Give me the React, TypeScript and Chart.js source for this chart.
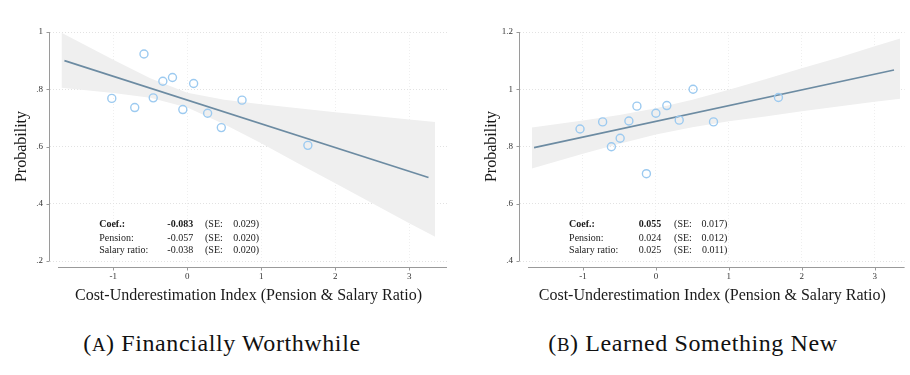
import React, { useEffect, useRef } from 'react';
import { Chart, registerables } from 'chart.js';
Chart.register(...registerables);

const FONT = '"Liberation Serif", "Times New Roman", serif';

const xTicks = [-1, 0, 1, 2, 3];
const xTickLabels = ['-1', '0', '1', '2', '3'];
const yTicksA = [0.2, 0.4, 0.6, 0.8, 1.0];
const yTickLabelsA = ['.2', '.4', '.6', '.8', '1'];
const yTicksB = [0.4, 0.6, 0.8, 1.0, 1.2];
const yTickLabelsB = ['.4', '.6', '.8', '1', '1.2'];

// Panel A: Financially Worthwhile
const pointsAX = [-1.02, -0.71, -0.585, -0.46, -0.33, -0.2, -0.06, 0.086, 0.275, 0.46, 0.74, 1.63];
const pointsAY = [0.768, 0.736, 0.923, 0.77, 0.828, 0.841, 0.729, 0.82, 0.716, 0.666, 0.762, 0.604];
const fitAX = [-1.66, 3.26];
const fitAY = [0.9, 0.492];
const bandAX = [-1.7, -1.0, -0.5, 0, 0.5, 1.0, 1.5, 2.0, 2.5, 3.0, 3.35];
const bandAUpper = [0.997, 0.903, 0.838, 0.788, 0.763, 0.748, 0.734, 0.72, 0.707, 0.694, 0.686];
const bandALower = [0.805, 0.787, 0.77, 0.736, 0.678, 0.611, 0.541, 0.472, 0.402, 0.332, 0.285];

// Panel B: Learned Something New
const pointsBX = [-1.04, -0.73, -0.61, -0.49, -0.37, -0.26, -0.13, 0.0, 0.15, 0.32, 0.51, 0.79, 1.68];
const pointsBY = [0.861, 0.886, 0.799, 0.829, 0.889, 0.941, 0.705, 0.916, 0.943, 0.892, 1.0, 0.886, 0.971];
const fitBX = [-1.67, 3.265];
const fitBY = [0.796, 1.067];
const bandBX = [-1.7, -1.0, -0.5, 0, 0.5, 1.0, 1.5, 2.0, 2.5, 3.0, 3.35];
const bandBUpper = [0.866, 0.891, 0.91, 0.934, 0.963, 0.998, 1.035, 1.073, 1.11, 1.15, 1.177];
const bandBLower = [0.723, 0.775, 0.81, 0.842, 0.867, 0.888, 0.905, 0.923, 0.94, 0.956, 0.967];

const coefLabels = ['Coef.:', 'Pension:', 'Salary ratio:'];
const coefA = ['-0.083', '-0.057', '-0.038'];
const seA = ['0.029', '0.020', '0.020'];
const coefB = ['0.055', '0.024', '0.025'];
const seB = ['0.017', '0.012', '0.011'];

const xTitle = 'Cost-Underestimation Index (Pension & Salary Ratio)';
const yTitle = 'Probability';

type PanelSpec = {
  width: number;
  height: number;
  padRight: number;
  xMin: number;
  xMax: number;
  yTicks: number[];
  yTickLabels: string[];
  pointsX: number[];
  pointsY: number[];
  fitX: number[];
  fitY: number[];
  bandX: number[];
  bandUpper: number[];
  bandLower: number[];
  coef: string[];
  se: string[];
  textX: number[]; // label left, coef right, (SE: left, se right
  textY: number[];
};

const specA: PanelSpec = {
  width: 455, height: 310, padRight: 8, xMin: -1.855, xMax: 3.51,
  yTicks: yTicksA, yTickLabels: yTickLabelsA,
  pointsX: pointsAX, pointsY: pointsAY, fitX: fitAX, fitY: fitAY,
  bandX: bandAX, bandUpper: bandAUpper, bandLower: bandALower,
  coef: coefA, se: seA,
  textX: [-1.19, 0.08, 0.24, 0.97],
  textY: [0.329, 0.28, 0.238],
};

const specB: PanelSpec = {
  width: 440, height: 310, padRight: 5, xMin: -1.863, xMax: 3.41,
  yTicks: yTicksB, yTickLabels: yTickLabelsB,
  pointsX: pointsBX, pointsY: pointsBY, fitX: fitBX, fitY: fitBY,
  bandX: bandBX, bandUpper: bandBUpper, bandLower: bandBLower,
  coef: coefB, se: seB,
  textX: [-1.19, 0.073, 0.25, 0.98],
  textY: [0.529, 0.48, 0.438],
};

function makePlugin(p: PanelSpec) {
  return {
    id: 'stataAxes',
    afterDraw(chart: any) {
      const { ctx, chartArea: a, scales } = chart;
      const x = scales.x;
      const y = scales.y;
      ctx.save();
      ctx.strokeStyle = '#9a9a9a';
      ctx.lineWidth = 1;
      ctx.beginPath();
      const yl = Math.round(a.left) - 0.5;
      ctx.moveTo(yl, y.getPixelForValue(p.yTicks[p.yTicks.length - 1]));
      ctx.lineTo(yl, y.getPixelForValue(p.yTicks[0]));
      p.yTicks.forEach((v) => {
        const py = Math.round(y.getPixelForValue(v)) + 0.5;
        ctx.moveTo(yl - 3, py);
        ctx.lineTo(yl, py);
      });
      const xb = Math.round(a.bottom + 6) + 0.5;
      ctx.moveTo(a.left + 8, xb);
      ctx.lineTo(a.right, xb);
      xTicks.forEach((v) => {
        const px = Math.round(x.getPixelForValue(v)) + 0.5;
        ctx.moveTo(px, xb);
        ctx.lineTo(px, xb + 3);
      });
      ctx.stroke();

      ctx.fillStyle = '#1a1a1a';
      ctx.textBaseline = 'middle';
      coefLabels.forEach((lab, i) => {
        const py = y.getPixelForValue(p.textY[i]);
        ctx.font = (i === 0 ? 'bold ' : '') + '10px ' + FONT;
        ctx.textAlign = 'left';
        ctx.fillText(lab, x.getPixelForValue(p.textX[0]), py);
        ctx.textAlign = 'right';
        ctx.fillText(p.coef[i], x.getPixelForValue(p.textX[1]), py);
        ctx.font = '10px ' + FONT;
        ctx.textAlign = 'left';
        ctx.fillText('(SE:', x.getPixelForValue(p.textX[2]), py);
        ctx.textAlign = 'right';
        ctx.fillText(p.se[i] + ')', x.getPixelForValue(p.textX[3]), py);
      });
      ctx.restore();
    },
  };
}

function buildConfig(p: PanelSpec): any {
  const toPts = (xs: number[], ys: number[]) => xs.map((v, i) => ({ x: v, y: ys[i] }));
  return {
    type: 'scatter',
    data: {
      datasets: [
        {
          data: toPts(p.pointsX, p.pointsY),
          borderColor: '#9ccaf0',
          backgroundColor: 'rgba(255,255,255,0)',
          pointRadius: 4,
          pointHoverRadius: 4,
          pointBorderWidth: 1.4,
          showLine: false,
          order: 0,
        },
        {
          data: toPts(p.fitX, p.fitY),
          showLine: true,
          borderColor: '#6c8ba2',
          borderWidth: 1.6,
          pointRadius: 0,
          fill: false,
          order: 1,
        },
        {
          data: toPts(p.bandX, p.bandUpper),
          showLine: true,
          borderWidth: 0,
          borderColor: 'rgba(0,0,0,0)',
          backgroundColor: '#efefef',
          pointRadius: 0,
          fill: '+1',
          order: 2,
        },
        {
          data: toPts(p.bandX, p.bandLower),
          showLine: true,
          borderWidth: 0,
          borderColor: 'rgba(0,0,0,0)',
          pointRadius: 0,
          fill: false,
          order: 3,
        },
      ],
    },
    options: {
      animation: false,
      responsive: false,
      maintainAspectRatio: false,
      events: [],
      layout: { padding: { left: 0, right: p.padRight, top: 32, bottom: 0 } },
      plugins: { legend: { display: false }, tooltip: { enabled: false } },
      scales: {
        x: {
          type: 'linear',
          min: p.xMin,
          max: p.xMax,
          afterFit: (s: any) => { s.height = p.height - 261; },
          afterBuildTicks: (s: any) => { s.ticks = xTicks.map((v) => ({ value: v })); },
          ticks: {
            callback: (_v: any, i: number) => xTickLabels[i],
            font: { family: FONT, size: 9 },
            color: '#333',
            padding: 10.3,
            maxRotation: 0,
            autoSkip: false,
          },
          grid: { color: '#efefef', drawTicks: false, lineWidth: 1 },
          border: { display: false, dash: [1, 2] },
          title: {
            display: true,
            text: xTitle,
            font: { family: FONT, size: 16 },
            color: '#1a1a1a',
            padding: { top: 0, bottom: 4.5 },
          },
        },
        y: {
          type: 'linear',
          min: p.yTicks[0],
          max: p.yTicks[p.yTicks.length - 1],
          afterFit: (s: any) => { s.width = 50; },
          afterBuildTicks: (s: any) => { s.ticks = p.yTicks.map((v) => ({ value: v })); },
          ticks: {
            callback: (_v: any, i: number) => p.yTickLabels[i],
            font: { family: FONT, size: 9 },
            color: '#333',
            padding: 7,
            autoSkip: false,
          },
          grid: { color: '#e2e2e2', drawTicks: false, lineWidth: 1 },
          border: { display: false, dash: [1, 2] },
          title: {
            display: true,
            text: yTitle,
            font: { family: FONT, size: 16 },
            color: '#1a1a1a',
            padding: { top: 12.1, bottom: 0 },
          },
        },
      },
    },
    plugins: [makePlugin(p)],
  };
}

function Panel({ spec, left }: { spec: PanelSpec; left: number }) {
  const ref = useRef<HTMLCanvasElement | null>(null);
  useEffect(() => {
    if (!ref.current) return;
    const chart = new Chart(ref.current, buildConfig(spec));
    return () => chart.destroy();
  }, [spec]);
  return (
    <canvas
      ref={ref}
      width={spec.width}
      height={spec.height}
      style={{ position: 'absolute', left, top: 0, width: spec.width, height: spec.height }}
    />
  );
}

const captionStyle: React.CSSProperties = {
  position: 'absolute',
  top: 328,
  fontFamily: FONT,
  fontSize: 24,
  letterSpacing: '0.6px',
  lineHeight: '30px',
  textAlign: 'center',
  color: '#111',
  whiteSpace: 'nowrap',
};

export default function App() {
  return (
    <div style={{ position: 'fixed', left: 0, top: 0, width: 910, height: 375, background: '#fff', overflow: 'hidden' }}>
      <Panel spec={specA} left={0} />
      <Panel spec={specB} left={470} />
      <div style={{ ...captionStyle, left: 0, width: 444 }}>
        (<span style={{ fontSize: '0.78em' }}>A</span>) Financially Worthwhile
      </div>
      <div style={{ ...captionStyle, left: 470, width: 446 }}>
        (<span style={{ fontSize: '0.78em' }}>B</span>) Learned Something New
      </div>
    </div>
  );
}
